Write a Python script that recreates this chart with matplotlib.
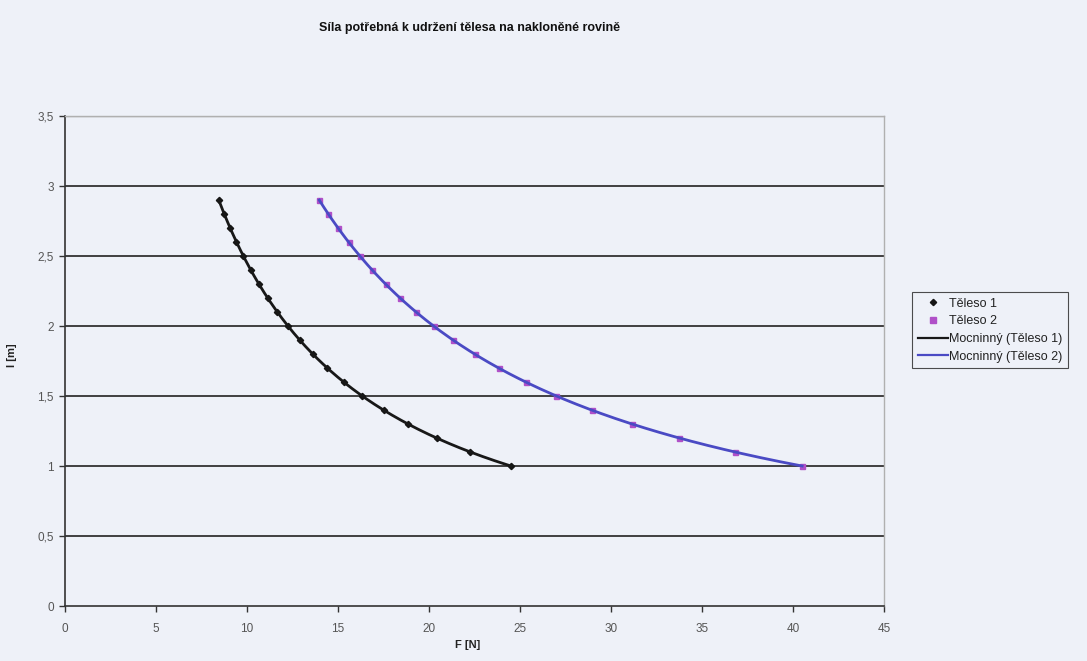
import numpy as np
import matplotlib
matplotlib.use("Agg")
import matplotlib.pyplot as plt
from matplotlib.lines import Line2D

# Length of the inclined plane l [m]
length_m = [1.0, 1.1, 1.2, 1.3, 1.4, 1.5, 1.6, 1.7, 1.8, 1.9,
            2.0, 2.1, 2.2, 2.3, 2.4, 2.5, 2.6, 2.7, 2.8, 2.9]

# Holding force F [N] for each body
force_body1 = [24.5, 22.27, 20.42, 18.85, 17.5, 16.33, 15.31, 14.41, 13.61, 12.89,
               12.25, 11.67, 11.14, 10.65, 10.21, 9.8, 9.42, 9.07, 8.75, 8.45]
force_body2 = [40.5, 36.82, 33.75, 31.15, 28.93, 27.0, 25.31, 23.82, 22.5, 21.32,
               20.25, 19.29, 18.41, 17.61, 16.88, 16.2, 15.58, 15.0, 14.46, 13.97]

series_names = ["Těleso 1", "Těleso 2"]
trend_names = ["Mocninný (Těleso 1)", "Mocninný (Těleso 2)"]
title = "Síla potřebná k udržení tělesa na nakloněné rovině"
x_label = "F [N]"
y_label = "l [m]"
x_ticks = [0, 5, 10, 15, 20, 25, 30, 35, 40, 45]
y_ticks = [0, 0.5, 1, 1.5, 2, 2.5, 3, 3.5]
y_tick_labels = ["0", "0,5", "1", "1,5", "2", "2,5", "3", "3,5"]

plt.rcParams['font.family'] = ['Liberation Sans', 'DejaVu Sans']

BG = "#eef1f8"
TICK_TXT = "#555555"
C1_MARK = "#151515"
C2_MARK = "#b050c8"
C1_LINE = "#181818"
C2_LINE = "#4a4ac4"

fig = plt.figure(figsize=(10.87, 6.61), dpi=100, facecolor=BG)
ax = fig.add_axes([0.0598, 0.0832, 0.7535, 0.7413], facecolor=BG)


def power_trend(F, l):
    # least-squares fit of l = a * F^b in log space
    b, ln_a = np.polyfit(np.log(F), np.log(l), 1)
    xs = np.linspace(min(F), max(F), 200)
    return xs, np.exp(ln_a) * xs ** b


# gridlines
for yv in y_ticks[1:-1]:
    ax.axhline(yv, color="#404040", lw=1.4, zorder=1)
ax.axhline(3.5, color="#b0b0b0", lw=1.0, zorder=1)

# markers
ax.plot(force_body1, length_m, ls="none", marker="D", ms=3.2,
        color=C1_MARK, zorder=3)
ax.plot(force_body2, length_m, ls="none", marker="s", ms=3.6,
        color=C2_MARK, zorder=3)

# power trendlines drawn over the markers
tx1, ty1 = power_trend(force_body1, length_m)
tx2, ty2 = power_trend(force_body2, length_m)
ax.plot(tx1, ty1, color=C1_LINE, lw=2.0, zorder=4)
ax.plot(tx2, ty2, color=C2_LINE, lw=2.0, zorder=4)

ax.set_xlim(0, 45)
ax.set_ylim(0, 3.5)
ax.set_xticks(x_ticks)
ax.set_yticks(y_ticks)
ax.set_yticklabels(y_tick_labels)
ax.tick_params(axis="both", direction="out", length=4, width=1.0,
               color="#333333", labelcolor=TICK_TXT, labelsize=8.5)
ax.tick_params(axis="x", pad=8)
ax.tick_params(axis="y", pad=4)

for side in ("left", "bottom"):
    ax.spines[side].set_color("#333333")
    ax.spines[side].set_linewidth(1.2)
for side in ("top", "right"):
    ax.spines[side].set_color("#b0b0b0")
    ax.spines[side].set_linewidth(1.0)

fig.text(0.432, 0.957, title, ha="center", va="center",
         fontsize=9, fontweight="bold", color="#111111")
fig.text(0.430, 0.024, x_label, ha="center", va="center",
         fontsize=8, fontweight="bold", color="#222222")
fig.text(0.011, 0.463, y_label, ha="center", va="center", rotation=90,
         fontsize=8, fontweight="bold", color="#222222")

handles = [
    Line2D([], [], ls="none", marker="D", ms=3.2, color=C1_MARK),
    Line2D([], [], ls="none", marker="s", ms=4.0, color=C2_MARK),
    Line2D([], [], color=C1_LINE, lw=1.6),
    Line2D([], [], color=C2_LINE, lw=1.6),
]
leg = fig.legend(handles, series_names + trend_names,
                 loc="upper left", bbox_to_anchor=(0.839, 0.558),
                 fontsize=9, frameon=True, fancybox=False,
                 handlelength=2.4, handletextpad=0.15, borderpad=0.45,
                 labelspacing=0.45, borderaxespad=0)
leg.get_frame().set_edgecolor("#222222")
leg.get_frame().set_linewidth(0.8)
leg.get_frame().set_facecolor(BG)
for t in leg.get_texts():
    t.set_color("#222222")

fig.savefig("out.png", dpi=100, facecolor=BG)
